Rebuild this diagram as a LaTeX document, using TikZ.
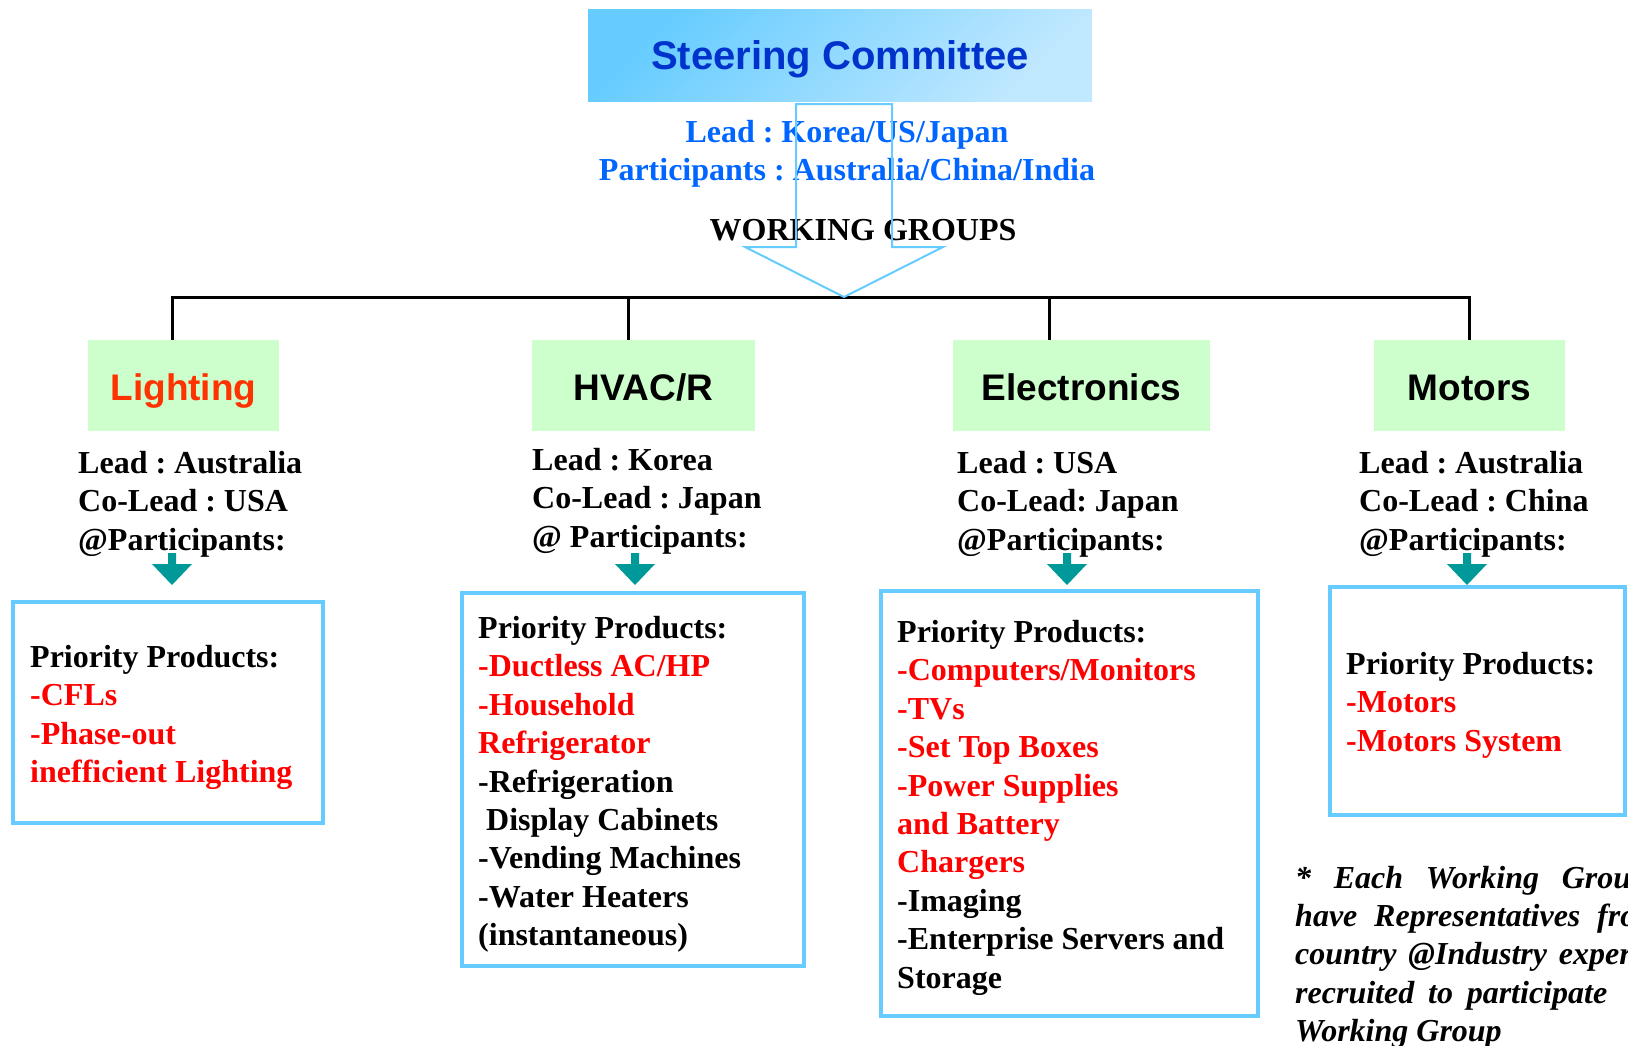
\documentclass[tikz,border=0pt]{standalone}
\usepackage{fontspec}
\setmainfont{Liberation Serif}
\newfontfamily\arialfont{Liberation Sans}
\usetikzlibrary{positioning}
\definecolor{skyline}{RGB}{102,204,255}
\definecolor{skytop}{RGB}{102,204,255}
\definecolor{skylow}{RGB}{192,232,255}
\definecolor{wggreen}{RGB}{204,255,204}
\definecolor{steerblue}{RGB}{0,51,204}
\definecolor{leadblue}{RGB}{0,102,255}
\definecolor{lightorange}{RGB}{255,51,0}
\definecolor{prodred}{RGB}{255,0,0}
\definecolor{arrowteal}{RGB}{0,153,153}
\newcommand{\prio}[1]{\textcolor{prodred}{#1}}
\frenchspacing

\begin{document}
\begin{tikzpicture}[
    x=1pt, y=-1pt,
    steer/.style={top color=skytop, bottom color=skylow, shading angle=45, minimum width=504pt, minimum height=92pt, text=steerblue, font=\arialfont\bfseries\fontsize{40}{48}\selectfont, text height=28.5pt, text depth=0pt},
    wg/.style={fill=wggreen, minimum height=91pt, font=\arialfont\bfseries\fontsize{37}{44}\selectfont, text height=30pt, text depth=0pt},
    info/.style={anchor=north west, inner sep=0pt, align=left, font=\bfseries\fontsize{32}{38.4}\selectfont, execute at begin node=\strut},
    prodbox/.style={draw=skyline, line width=4pt, fill=white},
    bus/.style={line width=3pt},
    hollow/.style={draw=skyline, line width=2pt}
]
    \useasboundingbox (0,0) rectangle (1628,1045);

    % Steering Committee
    \node[steer] (steer) at (840,55) {Steering Committee};
    \node[text=leadblue, font=\bfseries\fontsize{32}{38}\selectfont, align=center, anchor=north, inner sep=0pt, execute at begin node=\strut] (steerlead) at (847,120) {Lead : Korea/US/Japan\\Participants : Australia/China/India};
    \node[font=\bfseries\fontsize{32}{38}\selectfont, anchor=base, inner sep=0pt] (wglabel) at (863,240) {WORKING GROUPS};

    % Working groups
    \node[wg, minimum width=191pt, text=lightorange] (lighting) at (183.5,385.5) {Lighting};
    \node[wg, minimum width=223pt] (hvac) at (643.5,385.5) {HVAC/R};
    \node[wg, minimum width=257pt] (electronics) at (1081.5,385.5) {Electronics};
    \node[wg, minimum width=191pt] (motors) at (1469.5,385.5) {Motors};

    % Tree
    \coordinate (busL) at (172,297);
    \coordinate (busH) at (628,297);
    \coordinate (busE) at (1049,297);
    \coordinate (busM) at (1469,297);
    \draw[bus] (busL |- lighting.north) -- (busL) -- (busM) -- (busM |- motors.north);
    \draw[bus] (busH) -- (busH |- hvac.north);
    \draw[bus] (busE) -- (busE |- electronics.north);

    % Hollow arrow
    \draw[hollow] (796,104) -- (796,247) -- (745,247) -- (844,297) -- (943,247) -- (892,247) -- (892,104) -- cycle;

    % Leads
    \node[info] (lightlead) at (78,451) {Lead : Australia\\Co-Lead : USA\\@Participants:};
    \node[info] (hvaclead) at (532,448) {Lead : Korea\\Co-Lead : Japan\\@ Participants:};
    \node[info] (eleclead) at (957,451) {Lead : USA\\Co-Lead: Japan\\@Participants:};
    \node[info] (motorlead) at (1359,451) {Lead : Australia\\Co-Lead : China\\@Participants:};

    % Product boxes
    \node[prodbox, minimum width=310pt, minimum height=221pt] (lightprod) at (168,712.5) {};
    \node[prodbox, minimum width=342pt, minimum height=373pt] (hvacprod) at (633,779.5) {};
    \node[prodbox, minimum width=377pt, minimum height=425pt] (elecprod) at (1069.5,803.5) {};
    \node[prodbox, minimum width=295pt, minimum height=228pt] (motorprod) at (1477.5,701) {};

    % Teal arrows
    \foreach \x in {172,635,1067,1467}
        \fill[arrowteal] (\x,585) -- ++(-20,-21) -- ++(16,0) -- ++(0,-11) -- ++(8,0) -- ++(0,11) -- ++(16,0) -- cycle;

    % Product lists
    \node[info] (lightlist) at (30,645) {Priority Products:\\\prio{-CFLs}\\\prio{-Phase-out}\\\prio{inefficient Lighting}};
    \node[info] (hvaclist) at (478,616) {Priority Products:\\\prio{-Ductless AC/HP}\\\prio{-Household}\\\prio{Refrigerator}\\-Refrigeration\\\hspace*{8pt}Display Cabinets\\-Vending Machines\\-Water Heaters\\(instantaneous)};
    \node[info] (eleclist) at (897,620) {Priority Products:\\\prio{-Computers/Monitors}\\\prio{-TVs}\\\prio{-Set Top Boxes}\\\prio{-Power Supplies}\\\prio{and Battery}\\\prio{Chargers}\\-Imaging\\-Enterprise Servers and\\Storage};
    \node[info] (motorlist) at (1346,652) {Priority Products:\\\prio{-Motors}\\\prio{-Motors System}};

    % Note
    \node[info, font=\bfseries\itshape\fontsize{32}{38.2}\selectfont] (note) at (1295,866) {\makebox[352pt][s]{* Each Working Group}\\\makebox[366pt][s]{have Representatives from}\\\makebox[358pt][s]{country @Industry experts}\\\makebox[312pt][s]{recruited to participate}\\Working Group};
\end{tikzpicture}
\end{document}
